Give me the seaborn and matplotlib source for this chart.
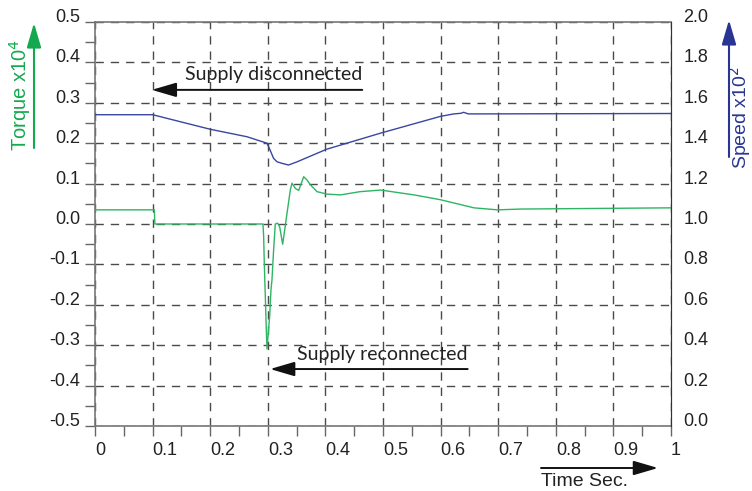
import numpy as np
import pandas as pd
import matplotlib
matplotlib.use("Agg")
import matplotlib.pyplot as plt
import seaborn as sns

# ---- data ----
t_torque = [0.0, 0.103, 0.104, 0.2916, 0.2928, 0.2939, 0.2957, 0.2974, 0.2986,
            0.3003, 0.3032, 0.3055, 0.3072, 0.3101, 0.3130, 0.3171, 0.3206,
            0.3258, 0.3293, 0.3333, 0.3391, 0.3420, 0.3478, 0.3536, 0.3623,
            0.3681, 0.3739, 0.3855, 0.403, 0.426, 0.46, 0.496, 0.554, 0.6,
            0.658, 0.699, 0.739, 1.0]
torque = [0.035, 0.035, 0.0, 0.0, -0.031, -0.097, -0.18, -0.262, -0.309,
          -0.279, -0.229, -0.163, -0.139, -0.064, 0.0, 0.002, -0.007,
          -0.050, -0.015, 0.026, 0.084, 0.101, 0.088, 0.083, 0.117,
          0.109, 0.097, 0.080, 0.074, 0.072, 0.080, 0.084, 0.072, 0.060,
          0.040, 0.035, 0.037, 0.040]

t_speed = [0.0, 0.1, 0.2, 0.2638, 0.2986, 0.304, 0.310, 0.316, 0.325, 0.336,
           0.351, 0.402, 0.496, 0.6, 0.623, 0.635, 0.64, 0.648, 0.66, 1.0]
speed = [1.541, 1.541, 1.469, 1.432, 1.400, 1.366, 1.325, 1.308, 1.300, 1.292,
         1.308, 1.370, 1.450, 1.533, 1.545, 1.548, 1.553, 1.545, 1.545, 1.547]

x_ticks = [0, 0.1, 0.2, 0.3, 0.4, 0.5, 0.6, 0.7, 0.8, 0.9, 1.0]
x_labels = ["0", "0.1", "0.2", "0.3", "0.4", "0.5", "0.6", "0.7", "0.8", "0.9", "1"]
torque_ticks = [-0.5, -0.4, -0.3, -0.2, -0.1, 0.0, 0.1, 0.2, 0.3, 0.4, 0.5]
torque_labels = ["-0.5", "-0.4", "-0.3", "-0.2", "-0.1", "0.0", "0.1", "0.2", "0.3", "0.4", "0.5"]
speed_ticks = [0.0, 0.2, 0.4, 0.6, 0.8, 1.0, 1.2, 1.4, 1.6, 1.8, 2.0]
speed_labels = ["0.0", "0.2", "0.4", "0.6", "0.8", "1.0", "1.2", "1.4", "1.6", "1.8", "2.0"]

sns.set_style("white")
plt.rcParams["font.family"] = ["Liberation Sans", "DejaVu Sans"]

GREEN = "#2db563"
GREEN_T = "#14a94f"
BLUE = "#3a46a0"
BLUE_T = "#2a3593"
GRID = "#4a4a4a"

W, H = 752, 491
fig = plt.figure(figsize=(W / 100, H / 100), dpi=100)
ax = fig.add_axes([95 / W, 1 - 426 / H, (671 - 95) / W, (426 - 22) / H])
ax2 = ax.twinx()

df_t = pd.DataFrame({"t": t_torque, "torque": torque})
df_s = pd.DataFrame({"t": t_speed, "speed": speed})
sns.lineplot(data=df_t, x="t", y="torque", ax=ax, color=GREEN, lw=1.0,
             estimator=None, sort=False, zorder=3)
sns.lineplot(data=df_s, x="t", y="speed", ax=ax2, color=BLUE, lw=1.0,
             estimator=None, sort=False, zorder=3)

ax.set_xlim(0, 1)
ax.set_ylim(-0.5, 0.5)
ax2.set_ylim(0, 2.0)
ax.set_xlabel("")
ax.set_ylabel("")
ax2.set_ylabel("")

ax.set_xticks(x_ticks)
ax.set_xticklabels(x_labels)
ax.set_yticks(torque_ticks)
ax.set_yticklabels(torque_labels)
ax.set_xticks(np.arange(0.05, 1.0, 0.1), minor=True)
ax.set_yticks(np.arange(-0.45, 0.5, 0.1), minor=True)
ax2.set_yticks(speed_ticks)
ax2.set_yticklabels(speed_labels)

ax.grid(True, which="major", linestyle=(0, (6, 5)), color=GRID, lw=1.0)
ax2.grid(False)
ax.set_axisbelow(True)

ax.tick_params(axis="both", which="both", direction="out", length=7,
               width=1.0, color="#666666", labelsize=13, labelcolor="#222222")
ax.tick_params(axis="y", which="both", left=True, pad=3.5)
ax.tick_params(axis="x", which="both", bottom=True, pad=4.5)
ax2.tick_params(axis="y", length=0, pad=9, labelsize=13, labelcolor="#222222")

for lab in ax.get_xticklabels():
    lab.set_ha("left")
for lab in ax.get_yticklabels():
    lab.set_va("baseline")
for lab in ax2.get_yticklabels():
    lab.set_va("baseline")

for s in ["left", "bottom", "top"]:
    ax.spines[s].set_color("#777777")
    ax.spines[s].set_linewidth(1.2)
ax.spines["right"].set_color("#333333")
ax2.spines["right"].set_color("#333333")
for s in ["left", "bottom", "top"]:
    ax2.spines[s].set_visible(False)

# annotations
afont = dict(family=["Lato", "DejaVu Sans"], fontsize=14, color="#222222")
ax.annotate("", xy=(0.0986, 0.332), xytext=(0.464, 0.332),
            arrowprops=dict(arrowstyle="-|>,head_length=0.75,head_width=0.22",
                            mutation_scale=20, lw=1.4, color="#111111",
                            shrinkA=0, shrinkB=0))
ax.text(0.464, 0.369, "Supply disconnected", ha="right", va="center", **afont)

ax.annotate("", xy=(0.304, -0.359), xytext=(0.647, -0.359),
            arrowprops=dict(arrowstyle="-|>,head_length=0.75,head_width=0.22",
                            mutation_scale=20, lw=1.4, color="#111111",
                            shrinkA=0, shrinkB=0))
ax.text(0.647, -0.324, "Supply reconnected", ha="right", va="center", **afont)

# time axis arrow and label
fig.patches.append(matplotlib.patches.FancyArrowPatch(
    (541 / W, 1 - 468 / H), (658 / W, 1 - 468 / H), transform=fig.transFigure,
    arrowstyle="-|>,head_length=0.75,head_width=0.22", mutation_scale=20,
    lw=1.4, color="#111111", shrinkA=0, shrinkB=0))
fig.text(541 / W, 1 - 482 / H, "Time Sec.", ha="left", va="center",
         fontsize=14, color="#222222")

# axis label arrows
fig.patches.append(matplotlib.patches.FancyArrowPatch(
    (34 / W, 1 - 148 / H), (34 / W, 1 - 23 / H), transform=fig.transFigure,
    arrowstyle="-|>,head_length=0.75,head_width=0.22", mutation_scale=20,
    lw=1.5, color=GREEN_T, shrinkA=0, shrinkB=0))
fig.text(20 / W, 1 - 95 / H, "Torque x10$^4$", rotation=90, ha="center",
         va="center", fontsize=14.5, color=GREEN_T)

fig.patches.append(matplotlib.patches.FancyArrowPatch(
    (729 / W, 1 - 157 / H), (729 / W, 1 - 20 / H), transform=fig.transFigure,
    arrowstyle="-|>,head_length=0.75,head_width=0.22", mutation_scale=20,
    lw=1.5, color=BLUE_T, shrinkA=0, shrinkB=0))
fig.text(740 / W, 1 - 118 / H, "Speed x10$^2$", rotation=90, ha="center",
         va="center", fontsize=14, color=BLUE_T)

fig.savefig("out.png", dpi=100)
